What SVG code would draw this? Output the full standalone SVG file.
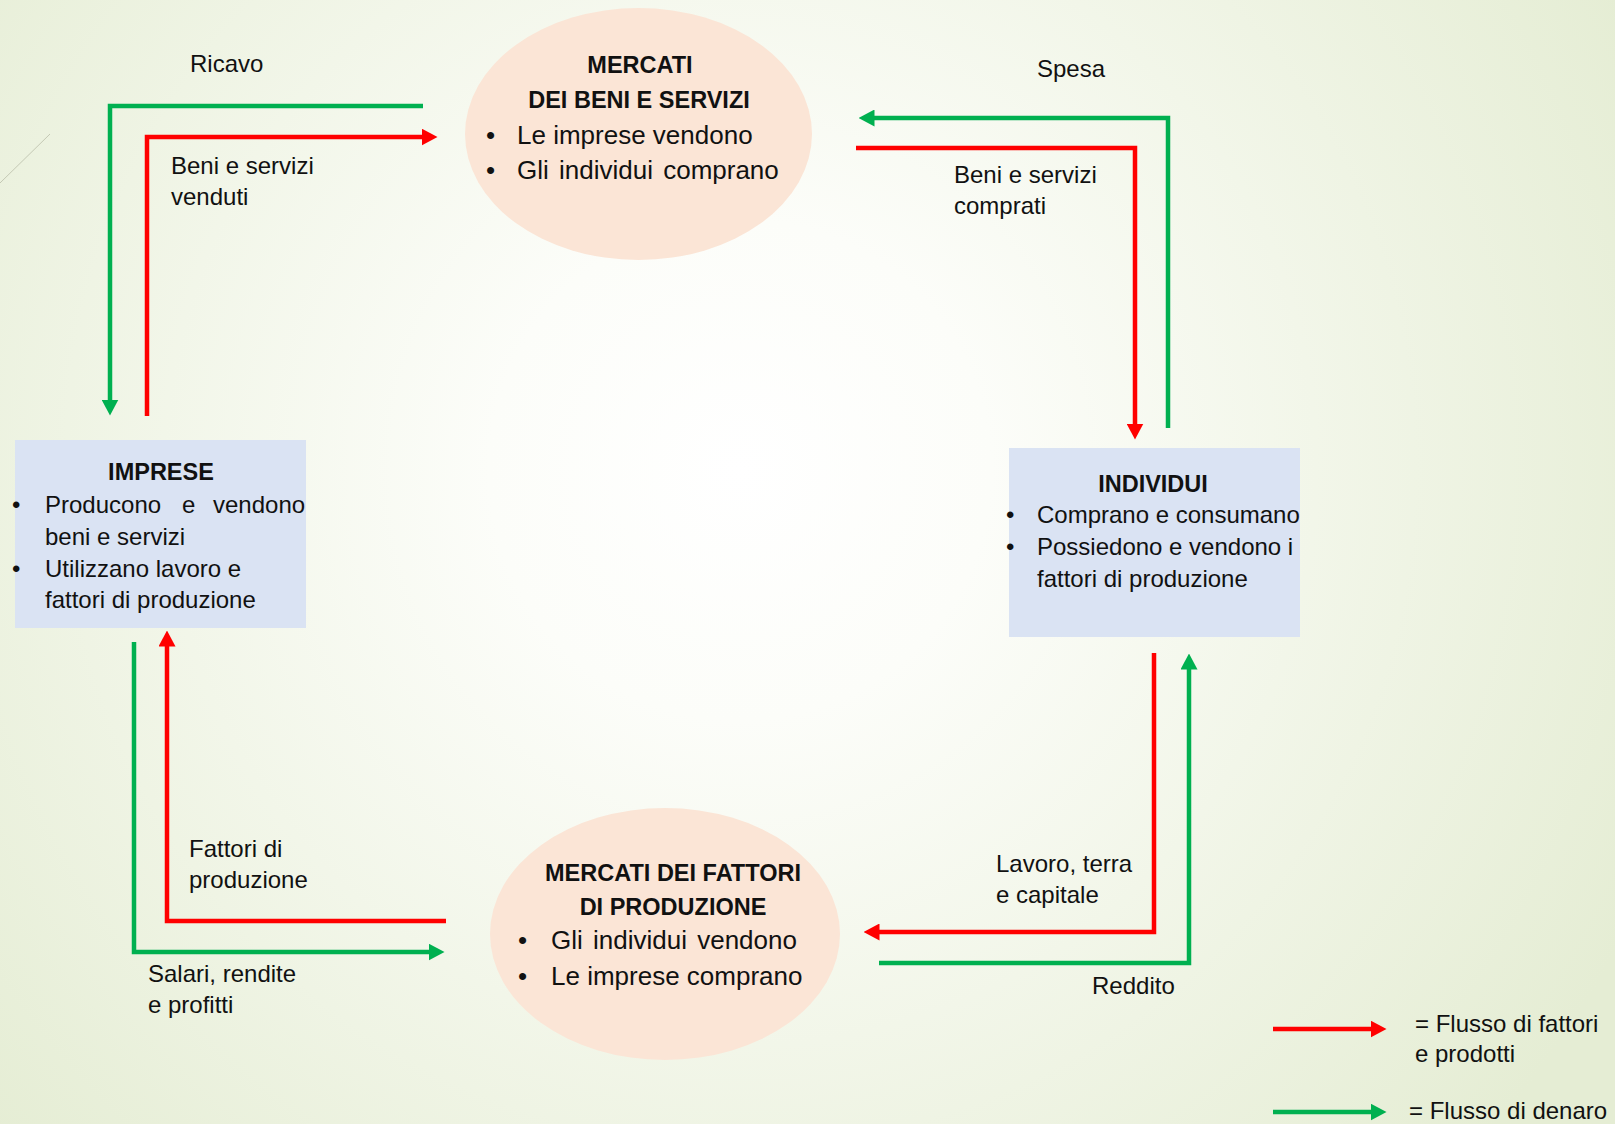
<svg xmlns="http://www.w3.org/2000/svg" width="1615" height="1124" viewBox="0 0 1615 1124">
<style>
text{font-family:"Liberation Sans",Arial,sans-serif;fill:#111;}
.lbl{font-size:24px;}
.tt{font-size:23.5px;font-weight:bold;}
.eb{font-size:26px;}
.bx{font-size:24px;}
.red{fill:none;stroke:#FF0000;stroke-width:4.5;stroke-linejoin:miter;}
.grn{fill:none;stroke:#00B050;stroke-width:4.5;stroke-linejoin:miter;}
.ell{fill:#FBE5D6;}
.box{fill:#DAE3F3;}
</style>
<defs>
<radialGradient id="bg" gradientUnits="userSpaceOnUse" cx="740" cy="470" r="1000">
<stop offset="0" stop-color="#FFFFFF"/>
<stop offset="0.25" stop-color="#FCFDF9"/>
<stop offset="1" stop-color="#E5EDD4"/>
</radialGradient>
<marker id="ar" markerUnits="userSpaceOnUse" viewBox="0 0 16 17" markerWidth="16" markerHeight="17" refX="0.5" refY="8.5" orient="auto"><path d="M0,0 L16,8.5 L0,17 z" fill="#FF0000"/></marker>
<marker id="ag" markerUnits="userSpaceOnUse" viewBox="0 0 16 17" markerWidth="16" markerHeight="17" refX="0.5" refY="8.5" orient="auto"><path d="M0,0 L16,8.5 L0,17 z" fill="#00B050"/></marker>
</defs>
<rect width="1615" height="1124" fill="url(#bg)"/>
<line x1="0" y1="183" x2="50" y2="134" stroke="#C4C8B4" stroke-width="1"/>

<g id="node-mercati-beni">
<ellipse class="ell" cx="638.5" cy="134" rx="173.5" ry="126"/>
<text class="tt" x="640" y="73" text-anchor="middle">MERCATI</text>
<text class="tt" x="639" y="108" text-anchor="middle">DEI BENI E SERVIZI</text>
<text class="eb" x="486" y="144">•</text>
<text class="eb" x="517" y="144">Le imprese vendono</text>
<text class="eb" x="486" y="179">•</text>
<text class="eb" x="517" y="179" word-spacing="3">Gli individui comprano</text>
</g>

<g id="node-mercati-fattori">
<ellipse class="ell" cx="665" cy="934" rx="175" ry="126"/>
<text class="tt" x="673" y="881" text-anchor="middle">MERCATI DEI FATTORI</text>
<text class="tt" x="673" y="915" text-anchor="middle">DI PRODUZIONE</text>
<text class="eb" x="518" y="949">•</text>
<text class="eb" x="551" y="949" word-spacing="3">Gli individui vendono</text>
<text class="eb" x="518" y="985">•</text>
<text class="eb" x="551" y="985">Le imprese comprano</text>
</g>

<g id="node-imprese">
<rect class="box" x="15" y="440" width="291" height="188"/>
<text class="tt" x="161" y="480" text-anchor="middle">IMPRESE</text>
<text class="bx" x="12" y="513">•</text>
<text class="bx" y="513"><tspan x="45">Producono</tspan><tspan x="182">e</tspan><tspan x="213">vendono</tspan></text>
<text class="bx" x="45" y="545">beni e servizi</text>
<text class="bx" x="12" y="577">•</text>
<text class="bx" x="45" y="577">Utilizzano lavoro e</text>
<text class="bx" x="45" y="608">fattori di produzione</text>
</g>

<g id="node-individui">
<rect class="box" x="1009" y="448" width="291" height="189"/>
<text class="tt" x="1153" y="492" text-anchor="middle">INDIVIDUI</text>
<text class="bx" x="1006" y="523">•</text>
<text class="bx" x="1037" y="523">Comprano e consumano</text>
<text class="bx" x="1006" y="555">•</text>
<text class="bx" x="1037" y="555">Possiedono e vendono i</text>
<text class="bx" x="1037" y="587">fattori di produzione</text>
</g>

<g id="connectors">
<path class="grn" d="M423,106 H110 V400" marker-end="url(#ag)"/>
<path class="red" d="M147,416 V137 H422" marker-end="url(#ar)"/>
<path class="grn" d="M1168,428 V118 H874" marker-end="url(#ag)"/>
<path class="red" d="M856,148 H1135 V424" marker-end="url(#ar)"/>
<path class="red" d="M1154,653 V932 H879" marker-end="url(#ar)"/>
<path class="grn" d="M879,963 H1189 V669" marker-end="url(#ag)"/>
<path class="grn" d="M134,642 V952 H429" marker-end="url(#ag)"/>
<path class="red" d="M446,921 H167 V646" marker-end="url(#ar)"/>
</g>

<g id="labels">
<text class="lbl" x="190" y="72">Ricavo</text>
<text class="lbl" x="171" y="174">Beni e servizi</text>
<text class="lbl" x="171" y="205">venduti</text>
<text class="lbl" x="1037" y="77">Spesa</text>
<text class="lbl" x="954" y="183">Beni e servizi</text>
<text class="lbl" x="954" y="214">comprati</text>
<text class="lbl" x="996" y="872">Lavoro, terra</text>
<text class="lbl" x="996" y="903">e capitale</text>
<text class="lbl" x="1092" y="994">Reddito</text>
<text class="lbl" x="189" y="857">Fattori di</text>
<text class="lbl" x="189" y="888">produzione</text>
<text class="lbl" x="148" y="982">Salari, rendite</text>
<text class="lbl" x="148" y="1013">e profitti</text>
</g>

<g id="legend">
<path class="red" d="M1273,1029 H1371" marker-end="url(#ar)"/>
<path class="grn" d="M1273,1112 H1371" marker-end="url(#ag)"/>
<text class="lbl" x="1415" y="1032">= Flusso di fattori</text>
<text class="lbl" x="1415" y="1062">e prodotti</text>
<text class="lbl" x="1409" y="1119">= Flusso di denaro</text>
</g>
</svg>
